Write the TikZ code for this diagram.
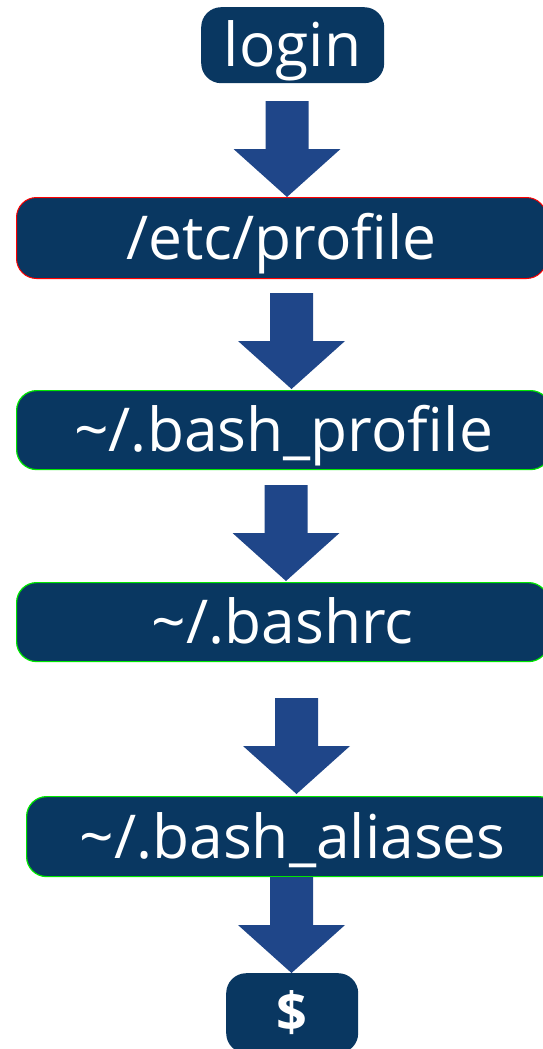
\documentclass[tikz,border=0pt]{standalone}
\usepackage{fontspec}
\setmainfont{Open Sans}
\definecolor{boxfill}{RGB}{9,55,97}
\definecolor{arrowfill}{RGB}{31,70,137}
\definecolor{redline}{RGB}{255,0,0}
\definecolor{greenline}{RGB}{0,230,0}
\tikzset{
  filebox/.style={rounded corners=20pt, fill=boxfill, inner sep=0pt,
    text=white, font=\fontsize{60.5}{60.5}\selectfont,
    text height=50pt, text depth=7pt, anchor=north west},
  blockarrow/.pic={
    \fill[arrowfill] (-21.5,0) -- (21.5,0) -- (21.5,48) -- (53.5,48)
      -- (0,96) -- (-53.5,48) -- (-21.5,48) -- cycle;
  }
}
\begin{document}
\begin{tikzpicture}[x=1pt,y=-1pt]
\useasboundingbox (0,0) rectangle (543,1049);
\clip (0,0) rectangle (543,1049);
% boxes of the start-up chain
\node[filebox, minimum width=183pt, minimum height=76pt] (login) at (201,7) {login};
\node[filebox, draw=redline, line width=1pt, minimum width=530pt, minimum height=81pt] (etc) at (16,197) {/etc/profile};
\node[filebox, draw=greenline, line width=1.2pt, minimum width=534pt, minimum height=79pt] (bprof) at (16,390) {\textasciitilde/.bash\_profile};
\node[filebox, draw=greenline, line width=1.2pt, minimum width=532pt, minimum height=79pt] (brc) at (16,582) {\textasciitilde/.bashrc};
\node[filebox, draw=greenline, line width=1.2pt, minimum width=532pt, minimum height=80pt] (bal) at (26,796) {\textasciitilde/.bash\_aliases};
\node[filebox, font=\fontsize{54}{54}\selectfont\bfseries, text height=44pt, text depth=8pt, minimum width=132pt, minimum height=80pt] (prompt) at (226,973) {\$};
% block arrows between the boxes
\pic at (287,101) {blockarrow};
\pic at (291.5,293) {blockarrow};
\pic at (286,485) {blockarrow};
\pic at (296.5,698) {blockarrow};
\pic at (291.5,877) {blockarrow};
\end{tikzpicture}
\end{document}
